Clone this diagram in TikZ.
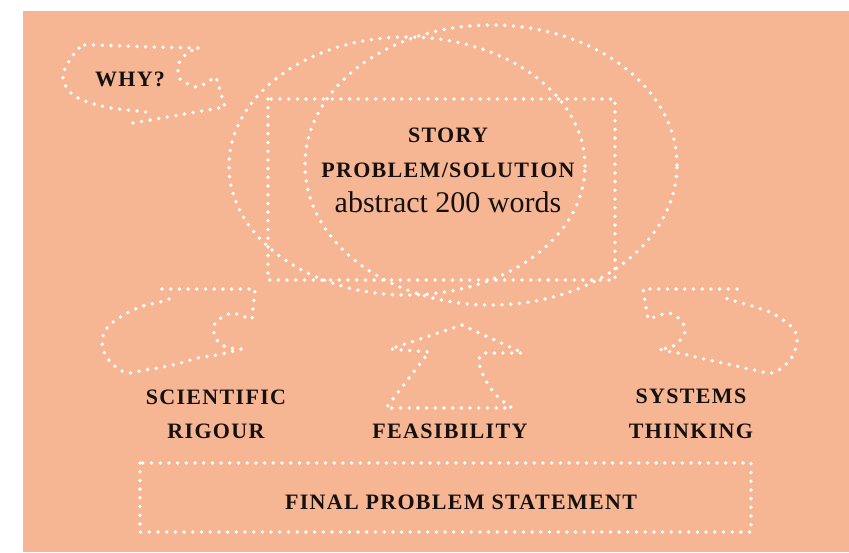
\documentclass[tikz,border=0pt]{standalone}
\usepackage{fontspec}
\setmainfont{Liberation Serif}
\newfontfamily\capfont[LetterSpace=6]{Liberation Serif}
\definecolor{bgsalmon}{RGB}{246,182,147}
\definecolor{inkc}{RGB}{22,16,16}
\begin{document}
\begin{tikzpicture}[x=1pt,y=-1pt,
  dotline/.style={draw=white, line width=3.8pt, line cap=round, dash pattern=on 0pt off 8.7pt},
  lbl/.style={text=inkc, inner sep=0pt, anchor=base, font=\capfont\bfseries\fontsize{22}{22}\selectfont},
  abstxt/.style={text=inkc, inner sep=0pt, anchor=base, font=\fontsize{30}{30}\selectfont}]
\useasboundingbox (0,0) rectangle (849,552);
\fill[white] (0,0) rectangle (849,552);
\fill[bgsalmon] (23,11) rectangle (849,552);

% central ellipses and box
\draw[dotline] (407,166) ellipse [x radius=178pt, y radius=129pt];
\draw[dotline] (491,165) ellipse [x radius=186pt, y radius=140pt];
\draw[dotline] (268,99) rectangle (615,280);

% WHY? arrow
\draw[dotline] (133,123) -- (225,107) -- (216,77)
  -- plot[smooth, tension=0.6] coordinates {(216,77) (207,82) (198,87) (188,84) (180,79) (178,70) (179,63) (183,57) (191,51)}
  -- plot[smooth, tension=0.6] coordinates {(199,48) (150,47) (85,45) (79,49) (73,55) (68,63) (64,71) (63,80) (67,88) (72,94) (80,99) (94,104) (111,108) (128,110) (147,112)};

% scientific rigour arrow
\draw[dotline] (162,289) -- (255,289) -- (252,319)
  -- plot[smooth, tension=0.6] coordinates {(252,319) (242,316) (232,313) (223,317) (215,323) (214,333) (217,340) (222,345) (230,348) (241,349)}
  -- plot[smooth, tension=0.6] coordinates {(234,351) (217,355) (198,358) (180,363) (163,367) (145,370) (128,373) (116,367) (106,356) (102,343) (105,331) (112,323) (127,313) (143,306) (160,302) (177,296)};

% systems thinking arrow
\draw[dotline] (737,289) -- (643,289) -- (648,319)
  -- plot[smooth, tension=0.6] coordinates {(648,319) (658,316) (668,313) (677,317) (683,323) (685,332) (681,339) (675,345) (668,348) (659,349)}
  -- plot[smooth, tension=0.6] coordinates {(666,351) (683,354) (700,358) (718,362) (736,366) (754,370) (772,373) (784,366) (792,357) (797,343) (795,331) (787,323) (772,313) (755,307) (738,302) (722,297)};

% feasibility arrow
\draw[dotline] (462,325) -- (390,349) -- (429,352) -- (386,408) -- (512,408)
  -- plot[smooth, tension=0.6] coordinates {(512,408) (497,396) (486,381) (480,367) (479,359) (483,353)}
  -- (523,353) -- (462,325);

% final box
\draw[dotline] (140,463) rectangle (751,532);

% texts
\node[lbl] (story) at (448,142) {STORY};
\node[lbl] (probsol) at (448,177) {PROBLEM/SOLUTION};
\node[abstxt] (abstract) at (448,212) {abstract 200 words};
\node[lbl] (why) at (130,86) {WHY?};
\node[lbl] (sci) at (216,404) {SCIENTIFIC};
\node[lbl] (rig) at (216,438) {RIGOUR};
\node[lbl] (feas) at (450,438) {FEASIBILITY};
\node[lbl] (sys) at (691,403) {SYSTEMS};
\node[lbl] (think) at (691,438) {THINKING};
\node[lbl] (final) at (461,509) {FINAL PROBLEM STATEMENT};
\end{tikzpicture}
\end{document}
